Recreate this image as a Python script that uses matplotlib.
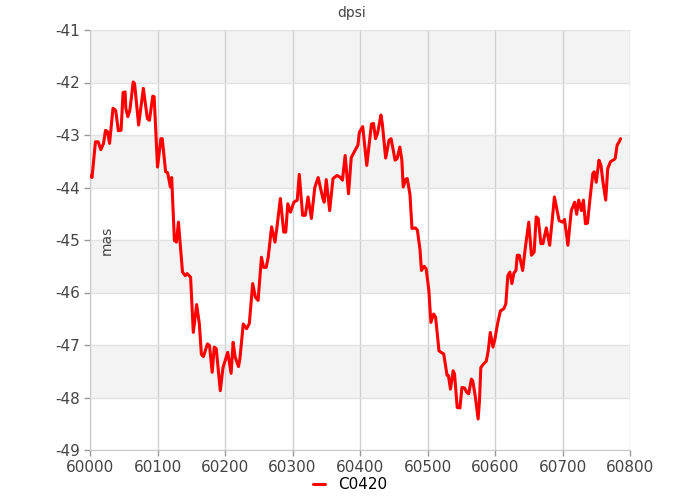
import matplotlib
matplotlib.use("Agg")
import matplotlib.pyplot as plt

# =================================
# DATA
# =================================

series_name = "C0420"

mjd = [
    60000, 60003, 60008, 60012, 60016, 60020, 60023, 60026, 60029, 60034,
    60038, 60042, 60046, 60049, 60052, 60053, 60056, 60059, 60064, 60066,
    60072, 60079, 60085, 60088, 60093, 60095, 60100, 60105, 60107, 60112,
    60115, 60119, 60121, 60125, 60128, 60131, 60134, 60137, 60141, 60144,
    60149, 60153, 60158, 60162, 60165, 60168, 60174, 60177, 60181, 60184,
    60187, 60193, 60197, 60204, 60209, 60212, 60215, 60220, 60222, 60227,
    60232, 60236, 60241, 60245, 60249, 60254, 60257, 60261, 60264, 60269,
    60274, 60277, 60282, 60287, 60290, 60293, 60297, 60302, 60307, 60310,
    60315, 60319, 60323, 60328, 60333, 60338, 60345, 60347, 60350, 60355,
    60360, 60366, 60371, 60374, 60378, 60383, 60387, 60392, 60397, 60399,
    60404, 60410, 60414, 60417, 60420, 60423, 60426, 60431, 60433, 60438,
    60443, 60446, 60452, 60455, 60459, 60462, 60464, 60468, 60470, 60474,
    60477, 60482, 60485, 60489, 60491, 60495, 60498, 60502, 60505, 60509,
    60512, 60517, 60520, 60524, 60529, 60531, 60534, 60538, 60540, 60544,
    60548, 60551, 60555, 60558, 60561, 60565, 60567, 60571, 60575, 60577,
    60579, 60583, 60587, 60590, 60593, 60597, 60600, 60604, 60608, 60613,
    60616, 60619, 60622, 60625, 60628, 60631, 60633, 60636, 60641, 60645,
    60650, 60654, 60658, 60661, 60664, 60668, 60671, 60676, 60681, 60685,
    60688, 60695, 60700, 60703, 60708, 60713, 60718, 60721, 60724, 60728,
    60731, 60734, 60737, 60741, 60745, 60747, 60750, 60754, 60757, 60760,
    60764, 60767, 60771, 60776, 60778, 60781, 60784, 60786,
]

dpsi = [
    -43.77, -43.81, -43.13, -43.13, -43.28, -43.16, -42.91, -42.94, -43.16, -42.49,
    -42.53, -42.92, -42.91, -42.19, -42.18, -42.49, -42.65, -42.53, -41.99, -42.02,
    -42.81, -42.11, -42.69, -42.72, -42.26, -42.27, -43.61, -43.07, -43.07, -43.70,
    -43.72, -43.99, -43.81, -45.01, -45.04, -44.66, -45.14, -45.61, -45.68, -45.64,
    -45.71, -46.76, -46.23, -46.60, -47.18, -47.22, -46.98, -47.01, -47.52, -47.04,
    -47.07, -47.87, -47.43, -47.14, -47.54, -46.95, -47.23, -47.41, -47.27, -46.60,
    -46.69, -46.59, -45.83, -46.09, -46.15, -45.33, -45.52, -45.52, -45.33, -44.75,
    -45.04, -44.75, -44.21, -44.85, -44.85, -44.31, -44.47, -44.28, -44.24, -43.75,
    -44.53, -44.53, -44.18, -44.59, -44.00, -43.81, -44.21, -44.28, -43.85, -44.44,
    -43.83, -43.77, -43.81, -43.86, -43.39, -44.12, -43.43, -43.31, -43.19, -42.95,
    -42.84, -43.58, -43.13, -42.79, -42.78, -43.07, -42.97, -42.62, -42.78, -43.44,
    -43.10, -43.07, -43.48, -43.45, -43.23, -43.48, -43.99, -43.84, -43.83, -44.13,
    -44.78, -44.77, -44.81, -45.20, -45.58, -45.50, -45.55, -45.96, -46.57, -46.41,
    -46.47, -47.11, -47.14, -47.17, -47.58, -47.58, -47.84, -47.49, -47.55, -48.19,
    -48.20, -47.81, -47.82, -47.90, -47.93, -47.65, -47.68, -48.00, -48.41, -48.06,
    -47.43, -47.36, -47.31, -47.11, -46.76, -47.04, -46.88, -46.58, -46.35, -46.31,
    -46.22, -45.68, -45.61, -45.83, -45.63, -45.58, -45.29, -45.29, -45.58, -45.14,
    -44.66, -45.29, -45.23, -44.56, -44.59, -45.07, -45.07, -44.77, -45.10, -44.59,
    -44.18, -44.63, -44.66, -44.61, -45.10, -44.44, -44.28, -44.51, -44.24, -44.44,
    -44.24, -44.69, -44.68, -44.18, -43.73, -43.70, -43.90, -43.48, -43.58, -43.90,
    -44.24, -43.64, -43.51, -43.47, -43.45, -43.19, -43.13, -43.07,
]

x_ticks = [60000, 60100, 60200, 60300, 60400, 60500, 60600, 60700, 60800]
y_ticks = [-49, -48, -47, -46, -45, -44, -43, -42, -41]

# =================================
# PLOT
# =================================

plt.rcParams["font.family"] = ["DejaVu Sans"]
plt.rcParams["axes.unicode_minus"] = False

fig = plt.figure(figsize=(7, 5), dpi=100)
ax = fig.add_axes([0.1286, 0.1, 0.7714, 0.84])

# alternating bands
for lo in range(-48, -40, 2):
    ax.axhspan(lo, lo + 1, color="#f3f3f3", zorder=0, lw=0)

ax.set_xlim(60000, 60800)
ax.set_ylim(-49, -41)
ax.set_xticks(x_ticks)
ax.set_yticks(y_ticks)
ax.grid(axis="y", color="#e2e2e2", lw=1)
ax.grid(axis="x", color="#d0d0d0", lw=1)
ax.set_axisbelow(True)

for side in ["top", "right"]:
    ax.spines[side].set_visible(False)
for side in ["left", "bottom"]:
    ax.spines[side].set_color("#c8c8c8")

ax.tick_params(labelcolor="#444444", labelsize=11, length=4, width=1,
               color="#999999", pad=3)

ax.plot(mjd, dpsi, color="#ff0000", lw=2.2, label=series_name, zorder=3,
        solid_joinstyle="round", solid_capstyle="round")

ax.text(0.018, 0.5, "mas", transform=ax.transAxes, rotation=90,
        ha="left", va="center", fontsize=10, color="#444444")

fig.text(0.503, 0.975, "dpsi", ha="center", va="center", fontsize=10, color="#444444")

fig.legend(loc="lower center", bbox_to_anchor=(0.5, -0.012), frameon=False,
           fontsize=11, handlelength=0.8, handletextpad=0.8)

plt.savefig("out.png")
